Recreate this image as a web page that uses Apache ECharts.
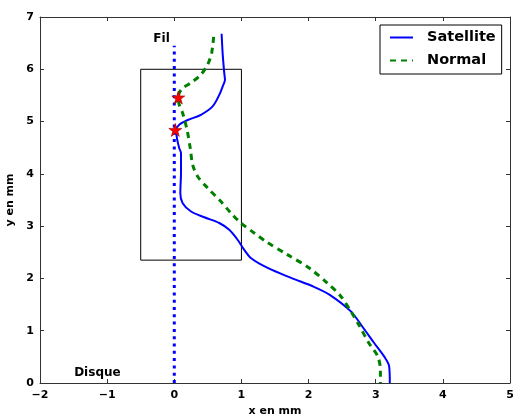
<!DOCTYPE html>
<html><head><meta charset="utf-8">
<script src="https://cdn.jsdelivr.net/npm/echarts@6/dist/echarts.min.js"></script>
<style>html,body{margin:0;padding:0;background:#fff}#c{width:513px;height:416px}</style>
</head><body><div id="c"></div>
<script>
// Satellite (solid blue): [x, y]
const satelliteX = [0.705,0.72,0.744,0.755,0.72,0.67,0.571,0.397,0.2,0.074,0.025,0.04,0.074,0.1,0.1,0.09,0.125,0.25,0.446,0.67,0.818,0.943,1.04,1.14,1.39,1.74,2.08,2.31,2.63,2.80,2.98,3.14,3.20,3.21];
const satelliteY = [6.68,6.31,5.93,5.80,5.67,5.51,5.29,5.13,5.03,4.94,4.84,4.68,4.49,4.40,4.02,3.63,3.44,3.28,3.17,3.06,2.93,2.74,2.55,2.39,2.20,2.01,1.84,1.69,1.37,1.08,0.76,0.48,0.32,0.0];
// Normal (dashed green)
const normalX = [0.586,0.556,0.497,0.397,0.248,0.125,0.065,0.065,0.125,0.19,0.238,0.274,0.348,0.497,0.695,0.844,0.992,1.19,1.36,1.69,2.01,2.28,2.48,2.63,2.75,2.90,3.03,3.07,3.07];
const normalY = [6.62,6.31,6.09,5.90,5.74,5.64,5.51,5.38,5.16,4.84,4.49,4.17,3.95,3.73,3.47,3.25,3.06,2.87,2.71,2.45,2.20,1.91,1.66,1.37,1.11,0.76,0.51,0.25,0.0];
// Fil (dotted blue vertical line)
const filX = [0, 0];
const filY = [0, 6.45];
// Stars
const starX = [0.06, 0.015];
const starY = [5.46, 4.84];
// Rectangle
const rectX = [-0.5, 1, 1, -0.5, -0.5];
const rectY = [2.35, 2.35, 6, 6, 2.35];
// Annotations
const noteText = ['Fil', 'Disque'];
const noteX = [-0.19, -1.145];
const noteY = [6.58, 0.19];
const xTicks = {min: -2, max: 5, interval: 1};
const yTicks = {min: 0, max: 7, interval: 1};

const zip = (xs, ys) => xs.map((x, i) => [x, ys[i]]);
const FONT = 'DejaVu Sans';
const fmt = v => String(v).replace('-', '\u2212');
const axisCommon = {
  type: 'value', splitLine: {show: false},
  axisLine: {show: true, onZero: false, lineStyle: {color: '#333', width: 1}},
  axisTick: {show: true, inside: true, length: 4, lineStyle: {color: '#333'}},
};
const star = 'path://M50,0 L61.8,35.5 L99,35.5 L69,57.5 L80.4,93 L50,71 L19.6,93 L31,57.5 L1,35.5 L38.2,35.5 Z';

const chart = echarts.init(document.getElementById('c'), null, {renderer: 'canvas'});
chart.setOption({
  animation: false,
  textStyle: {fontFamily: FONT},
  grid: {left: 40, right: 3, top: 17, bottom: 33, containLabel: false, outerBoundsMode: 'none'},
  xAxis: [
    Object.assign({}, axisCommon, xTicks, {position: 'bottom',
      name: 'x en mm', nameLocation: 'middle', nameGap: 22,
      nameTextStyle: {fontFamily: FONT, fontWeight: 'bold', fontSize: 11, color: '#000'},
      axisLabel: {formatter: fmt, fontFamily: FONT, fontWeight: 'bold', fontSize: 11, color: '#000', margin: 7}}),
    Object.assign({}, axisCommon, xTicks, {position: 'top', axisLabel: {show: false}})
  ],
  yAxis: [
    Object.assign({}, axisCommon, yTicks, {position: 'left',
      name: 'y en mm', nameLocation: 'middle', nameGap: 21, nameRotate: 90,
      nameTextStyle: {fontFamily: FONT, fontWeight: 'bold', fontSize: 11, color: '#000'},
      axisLabel: {formatter: fmt, fontFamily: FONT, fontWeight: 'bold', fontSize: 11, color: '#000', margin: 6}}),
    Object.assign({}, axisCommon, yTicks, {position: 'right', axisLabel: {show: false}})
  ],
  legend: {
    data: ['Satellite', 'Normal'], orient: 'vertical', left: 380, top: 25,
    padding: [5, 6, 6, 9], itemWidth: 23, itemHeight: 14, itemGap: 8,
    borderColor: '#000', borderWidth: 1, borderRadius: 0, backgroundColor: '#fff',
    itemStyle: {opacity: 0},
    textStyle: {fontFamily: FONT, fontWeight: 'bold', fontSize: 14.5, color: '#000', padding: [0, 0, 0, 9], lineHeight: 14}
  },
  series: [
    {name: 'rect', type: 'line', data: zip(rectX, rectY), symbol: 'none', silent: true,
     lineStyle: {color: '#000', width: 1}, z: 1},
    {name: 'Fil', type: 'line', data: zip(filX, filY), symbol: 'none',
     lineStyle: {color: '#0000ff', width: 3, type: [3, 4.3]}, z: 2},
    {name: 'Satellite', type: 'line', data: zip(satelliteX, satelliteY), symbol: 'none', smooth: 0.3,
     lineStyle: {color: '#0000ff', width: 2}, itemStyle: {color: '#0000ff'}, z: 3},
    {name: 'Normal', type: 'line', data: zip(normalX, normalY), symbol: 'none', smooth: 0.3,
     lineStyle: {color: '#008000', width: 3, type: [6, 5]}, itemStyle: {color: '#008000'}, z: 3},
    {name: 'stars', type: 'scatter', data: zip(starX, starY), symbol: star, symbolSize: 13,
     itemStyle: {color: '#ff0000', borderColor: '#8b0000', borderWidth: 0.6, opacity: 1}, z: 5},
    {name: 'notes', type: 'scatter', data: noteX.map((x, i) => ({value: [x, noteY[i]], name: noteText[i]})),
     symbolSize: 0, silent: true, itemStyle: {opacity: 1, color: '#000'},
     label: {show: true, position: 'inside', formatter: p => p.name, fontFamily: FONT, fontWeight: 'bold', fontSize: 12, color: '#000', textBorderWidth: 0, opacity: 1}, z: 6}
  ]
});
</script></body></html>
